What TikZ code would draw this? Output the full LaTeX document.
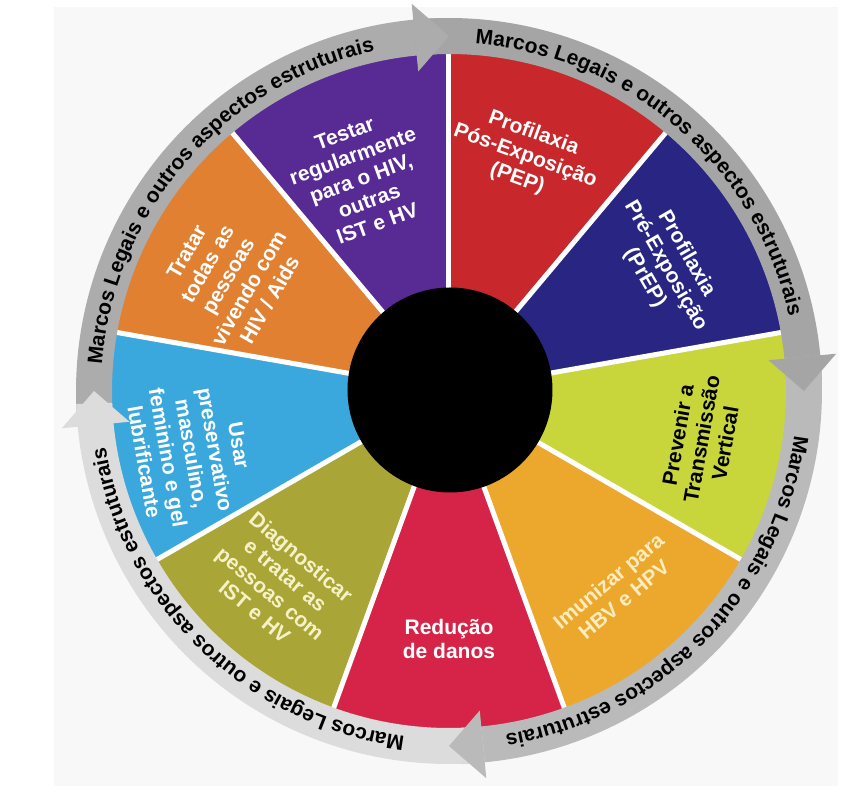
\documentclass[tikz,border=0pt]{standalone}
\usepackage{fontspec}
\setmainfont{Liberation Sans}
\usetikzlibrary{decorations.text}
\definecolor{bgpanel}{RGB}{248,248,248}
\definecolor{cPurple}{RGB}{88,42,148}
\definecolor{cOrange}{RGB}{224,128,48}
\definecolor{cBlue}{RGB}{58,168,220}
\definecolor{cOlive}{RGB}{170,165,55}
\definecolor{cCrimson}{RGB}{214,36,72}
\definecolor{cAmber}{RGB}{236,168,44}
\definecolor{cLime}{RGB}{200,214,60}
\definecolor{cNavy}{RGB}{40,38,130}
\definecolor{cRed}{RGB}{200,40,44}
\definecolor{cCream}{RGB}{246,242,200}
\definecolor{cCreamB}{RGB}{252,236,190}
\definecolor{ringA}{RGB}{172,172,172}
\definecolor{ringB}{RGB}{165,165,165}
\definecolor{ringC}{RGB}{186,186,186}
\definecolor{ringD}{RGB}{220,220,220}
\newcommand\ringfont{\fontsize{21}{21}\selectfont\bfseries}
\newcommand\sectfont{\fontsize{21}{24}\selectfont\bfseries}
\begin{document}
\begin{tikzpicture}[x=1pt,y=1pt,
  lbl/.style={align=center, font=\sectfont, text=white, inner sep=0pt},
  sep/.style={white, line width=5pt},
  ringtext/.style={decorate, decoration={text along path, text align=center,
     text={|\ringfont|Marcos Legais e outros aspectos estruturais}}}]
\useasboundingbox (-449pt,-419pt) rectangle (419pt,391pt);
\fill[white] (-449pt,-419pt) rectangle (419pt,391pt);
\fill[bgpanel] (-395pt,-395pt) rectangle (389pt,384pt);

% sectors
\foreach \a/\c in {90/cPurple,130/cOrange,170/cBlue,210/cOlive,250/cCrimson,290/cAmber,330/cLime,10/cNavy,50/cRed}{
  \fill[\c] (0pt,0pt) -- (\a:338pt) arc[start angle=\a, end angle=\a+40, radius=338pt] -- cycle;
}
\foreach \a in {10,50,...,330}{
  \draw[sep] (0pt,0pt) -- (\a:338pt);
}

% ring bands
\foreach \s/\t/\c in {180/90/ringA, 90/0/ringB, 0/-90/ringC, -90/-180/ringD}{
  \fill[\c] (\s+5.5:337pt) arc[start angle=\s+5.5, end angle=\t+2, radius=337pt]
     -- (\t+2:373pt) arc[start angle=\t+2, end angle=\s+5.5, radius=373pt] -- cycle;
}
% arrow heads
\foreach \t/\c in {90/ringA, 0/ringB, -90/ringC, -180/ringD}{
  \fill[\c] (\t+5.5:321pt) -- (\t:355pt) -- (\t+5.5:389pt) -- cycle;
}
% ring texts
\foreach \m in {139,49,-44,-134}{
  \path[ringtext] (\m+50:348pt) arc[start angle=\m+50, end angle=\m-50, radius=348pt];
}

% centre
\fill[black] (1pt,1pt) circle[radius=102.5pt];

% labels
\node[lbl, rotate=20] (tTestar) at (112.5:230pt) {Testar\\regularmente\\para o HIV,\\outras\\IST e HV};
\node[lbl, rotate=60] (tTratar) at (152.5:249pt) {Tratar\\todas as\\pessoas\\vivendo com\\HIV / Aids};
\node[lbl, rotate=-80] (tUsar) at (193.7:265pt) {Usar\\preservativo\\masculino,\\feminino e gel\\lubrificante};
\node[lbl, rotate=-40, text=cCream] (tDiag) at (228.5:258pt) {Diagnosticar\\e tratar as\\pessoas com\\IST e HV};
\node[lbl] (tRed) at (270:248pt) {Redução\\de danos};
\node[lbl, rotate=40, text=cCreamB] (tImun) at (310:260pt) {Imunizar para\\HBV e HPV};
\node[lbl, rotate=80, text=black] (tPrev) at (349.2:257pt) {Prevenir a\\Transmissão\\Vertical};
\node[lbl, rotate=-60] (tPrEP) at (30:250pt) {Profilaxia\\Pré-Exposição\\(PrEP)};
\node[lbl, rotate=-20] (tPEP) at (72:247pt) {Profilaxia\\Pós-Exposição\\(PEP)};
\end{tikzpicture}
\end{document}
